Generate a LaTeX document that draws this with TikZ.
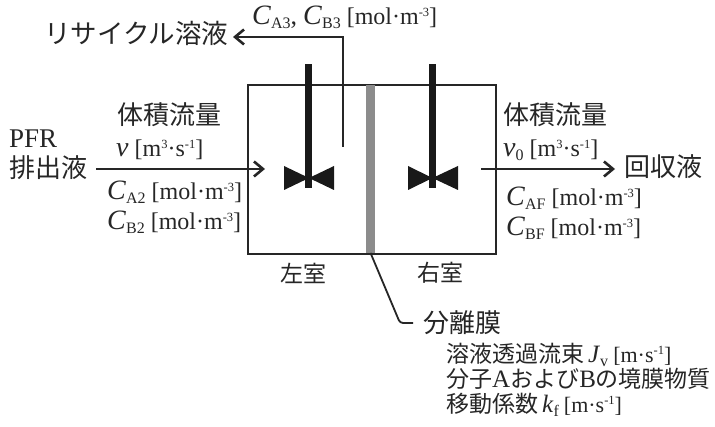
\documentclass[tikz,border=0pt]{standalone}
\usepackage{fontspec}
\setmainfont{Liberation Serif}
\newfontfamily\jp{Noto Sans CJK JP}
\newfontfamily\lsr{Liberation Serif}
\newcommand{\dnt}[1]{\raisebox{-4pt}{\fontsize{16}{16}\selectfont #1}}
\newcommand{\upt}[1]{\raisebox{8pt}{\fontsize{12.5}{12.5}\selectfont #1}}
\newcommand{\bigC}{{\fontsize{28}{28}\selectfont\textit{C}}}
\newcommand{\bigv}{{\fontsize{28}{28}\selectfont\textit{v}}}
\newcommand{\molu}{[mol·m\upt{-3}]}
\newcommand{\flowu}{[m\upt{3}·s\upt{-1}]}
\newcommand{\latn}[1]{{\lsr\fontsize{25}{25}\selectfont #1}}
\newcommand{\msu}{{\lsr\fontsize{22}{22}\selectfont [m·s\upt{-1}]}}
\usetikzlibrary{arrows.meta}
\tikzset{
  x=1pt,y=-1pt,
  wall/.style={draw=black!85,line width=2.4pt},
  flow/.style={draw=black!85,line width=2.6pt,-{Straight Barb[length=9pt,width=15pt,line width=2.6pt]}},
  lead/.style={draw=black!85,line width=1.8pt,rounded corners=3pt},
  blade/.style={fill=black!90,draw=none},
  shaft/.style={fill=black!90,draw=none,minimum width=7pt,inner sep=0pt},
  jl/.style={font=\jp\fontsize{26}{26}\selectfont,inner sep=0pt,text=black!85,anchor=west},
  jm/.style={font=\jp\fontsize{23}{23}\selectfont,inner sep=0pt,text=black!85},
  js/.style={font=\jp\fontsize{23}{23}\selectfont,inner sep=0pt,text=black!85,anchor=base west},
  vl/.style={font=\fontsize{24}{24}\selectfont,inner sep=0pt,text=black!85,anchor=base west},
}
\begin{document}
\begin{tikzpicture}
\useasboundingbox (0,0) rectangle (715,427);
\fill[white] (0,0) rectangle (715,427);
% vessel
\node[wall,minimum width=248pt,minimum height=169pt,inner sep=0pt,anchor=north west] (vessel) at (247,84) {};
\node[fill=black!45,minimum width=9pt,minimum height=168pt,inner sep=0pt,anchor=north] (membrane) at (370.5,84.5) {};
% impellers
\fill[blade] (284,166) -- (309,178) -- (284,190) -- cycle;
\fill[blade] (334,166) -- (309,178) -- (334,190) -- cycle;
\fill[blade] (408,166) -- (432.5,178) -- (408,190) -- cycle;
\fill[blade] (458,166) -- (432.5,178) -- (458,190) -- cycle;
\node[shaft,minimum height=124pt,anchor=north] (shaftL) at (308.5,64) {};
\node[shaft,minimum height=124pt,anchor=north] (shaftR) at (432.5,64) {};
% labels
\node[jl,font=\jp\fontsize{26.5}{26.5}\selectfont] (recy) at (44,33) {リサイクル溶液};
\node[vl] (c3) at (252,25) {\bigC\dnt{A3}{\fontsize{26}{26}\selectfont,} \bigC\dnt{B3} \molu};
\node[jl] (volL) at (117,115) {体積流量};
\node[vl,font=\fontsize{27}{27}\selectfont] (pfr) at (9,148) {PFR};
\node[jl] (waste) at (9,168) {排出液};
\node[vl] (vL) at (116,157) {\bigv\ \flowu};
\node[vl] (ca2) at (107,200) {\bigC\dnt{A2} \molu};
\node[vl] (cb2) at (107,230) {\bigC\dnt{B2} \molu};
\node[jl] (volR) at (503,115) {体積流量};
\node[vl] (vR) at (503,157) {\bigv\dnt{0} \flowu};
\node[jl] (recov) at (624,167) {回収液};
\node[vl] (caf) at (506,206) {\bigC\dnt{AF} \molu};
\node[vl] (cbf) at (506,236) {\bigC\dnt{BF} \molu};
\node[jm] (left) at (303,273) {左室};
\node[jm] (right) at (440,273) {右室};
\node[jl] (sep) at (423,323) {分離膜};
\node[js] (l1) at (446,362.5) {溶液透過流束\,{\lsr\fontsize{25}{25}\selectfont\textit{J}\dnt{v}} \msu};
\node[js] (l2) at (446,387.5) {分子\latn{A}および\latn{B}の境膜物質};
\node[js] (l3) at (446,412.5) {移動係数\,{\lsr\fontsize{25}{25}\selectfont\textit{k}\dnt{f}} \msu};
% connectors
\coordinate (inS) at (96,169); \coordinate (inE) at (265,169);
\coordinate (outS) at (481,169); \coordinate (outE) at (615,169);
\coordinate (retS) at (343,147); \coordinate (retC) at (343,37);
\coordinate (retE) at (233,37);
\draw[flow] (inS) -- (inE);
\draw[flow] (outS) -- (outE);
\draw[flow] (retS) -- (retC) -- (retE);
\coordinate (leadC) at (400,323);
\coordinate (leadE) at (413,323);
\draw[lead] (membrane.south) -- (leadC) -- (leadE);
\end{tikzpicture}
\end{document}
